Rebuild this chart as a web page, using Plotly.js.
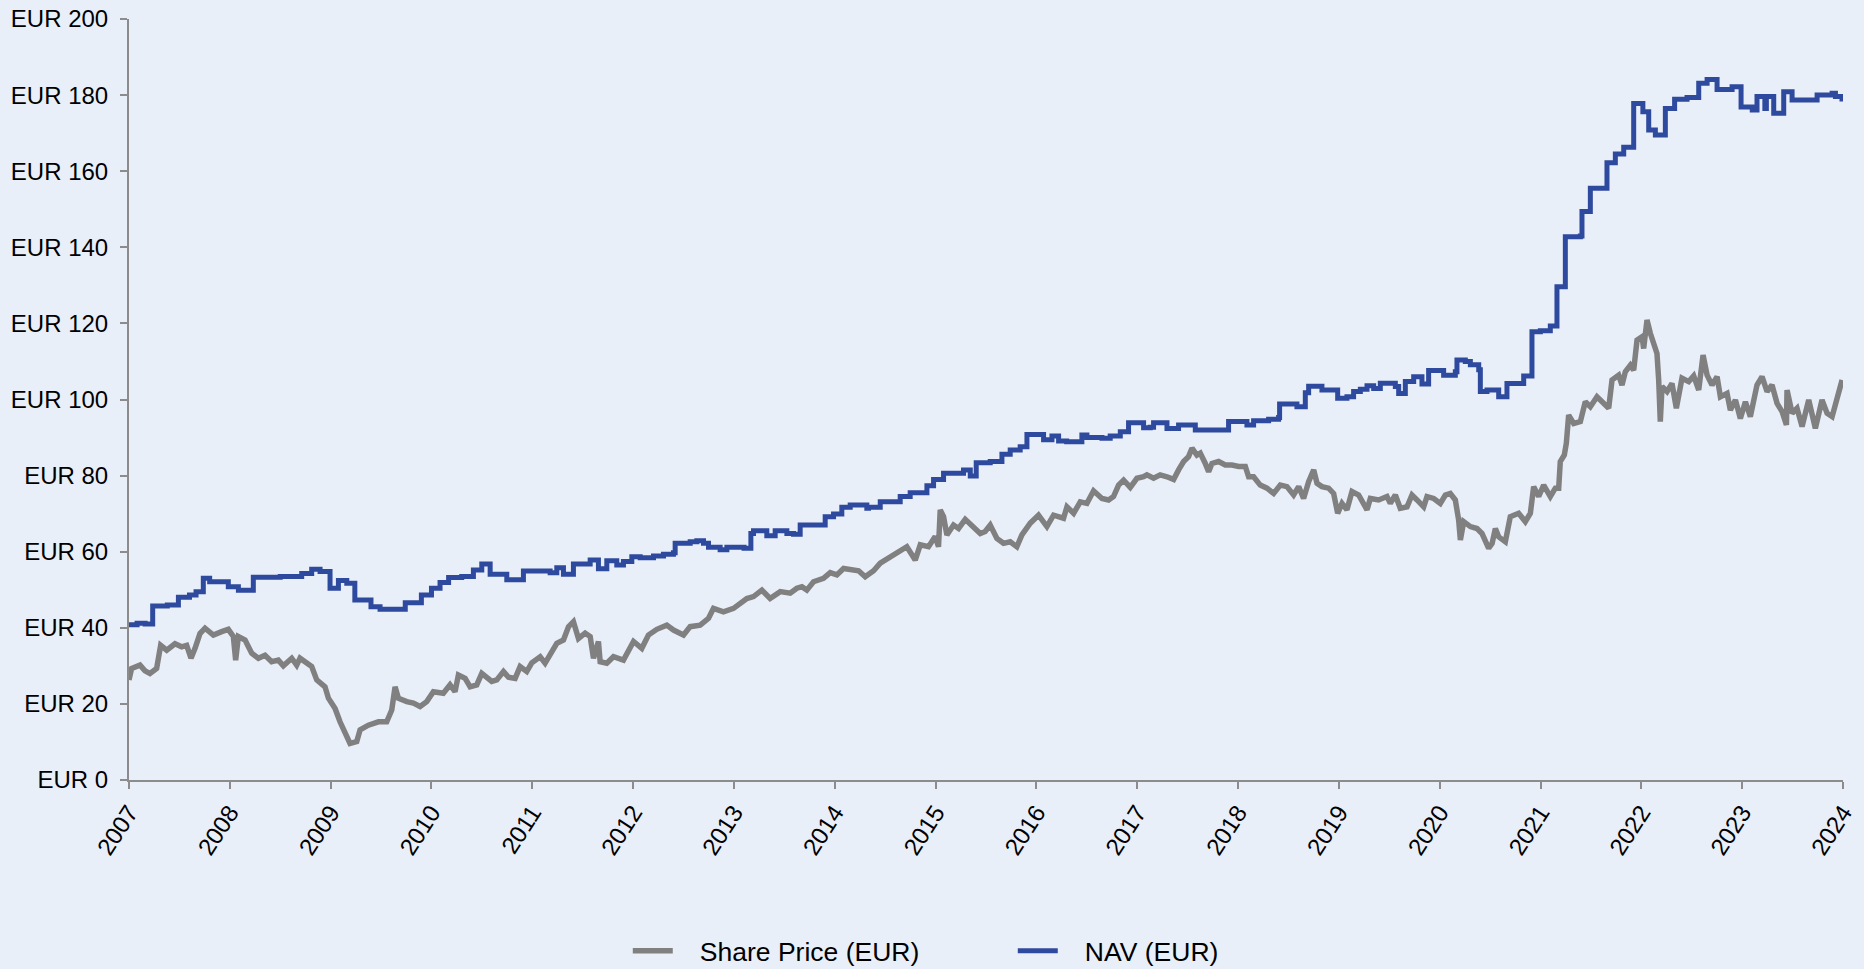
<!DOCTYPE html>
<html>
<head>
<meta charset="utf-8">
<script src="https://cdn.plot.ly/plotly-3.0.1.min.js"></script>
<style>
  html, body { margin: 0; padding: 0; background: #E9EFF9; }
  #chart { width: 1864px; height: 969px; }
</style>
</head>
<body>
<div id="chart"></div>
<script>
// ---- Data (decimal years) ----
const shareYears = [
2007.000,2007.026,2007.109,2007.159,2007.208,2007.274,2007.314,2007.374,2007.456,2007.522,
2007.572,2007.615,2007.655,2007.704,2007.754,2007.837,2007.919,2007.985,2008.035,2008.058,
2008.085,2008.151,2008.217,2008.283,2008.349,2008.415,2008.481,2008.531,2008.614,2008.663,
2008.696,2008.763,2008.812,2008.862,2008.944,2008.978,2009.044,2009.093,2009.143,2009.192,
2009.259,2009.292,2009.374,2009.474,2009.556,2009.606,2009.639,2009.672,2009.755,2009.821,
2009.887,2009.953,2010.019,2010.118,2010.184,2010.234,2010.267,2010.334,2010.383,2010.449,
2010.499,2010.598,2010.648,2010.714,2010.764,2010.830,2010.879,2010.945,2010.995,2011.078,
2011.127,2011.193,2011.243,2011.309,2011.359,2011.408,2011.458,2011.524,2011.574,2011.607,
2011.656,2011.673,2011.739,2011.805,2011.904,2012.004,2012.086,2012.152,2012.235,2012.334,
2012.400,2012.500,2012.566,2012.665,2012.748,2012.797,2012.896,2012.996,2013.062,2013.128,
2013.194,2013.277,2013.359,2013.459,2013.558,2013.624,2013.674,2013.723,2013.789,2013.888,
2013.955,2014.021,2014.087,2014.153,2014.236,2014.302,2014.385,2014.451,2014.550,2014.633,
2014.715,2014.798,2014.848,2014.930,2014.996,2015.029,2015.046,2015.079,2015.112,2015.178,
2015.228,2015.294,2015.360,2015.443,2015.492,2015.542,2015.608,2015.674,2015.740,2015.806,
2015.856,2015.939,2016.021,2016.104,2016.170,2016.269,2016.303,2016.369,2016.435,2016.501,
2016.567,2016.650,2016.716,2016.765,2016.815,2016.865,2016.931,2016.997,2017.063,2017.096,
2017.162,2017.228,2017.295,2017.361,2017.410,2017.460,2017.509,2017.543,2017.592,2017.625,
2017.675,2017.708,2017.741,2017.807,2017.873,2017.939,2018.006,2018.072,2018.105,2018.154,
2018.220,2018.287,2018.353,2018.419,2018.485,2018.551,2018.601,2018.650,2018.700,2018.750,
2018.783,2018.832,2018.898,2018.948,2018.988,2019.031,2019.080,2019.130,2019.196,2019.279,
2019.312,2019.394,2019.477,2019.510,2019.560,2019.609,2019.676,2019.725,2019.775,2019.841,
2019.874,2019.940,2020.006,2020.056,2020.105,2020.155,2020.188,2020.205,2020.238,2020.304,
2020.370,2020.419,2020.486,2020.520,2020.552,2020.585,2020.651,2020.700,2020.783,2020.849,
2020.899,2020.932,2020.982,2021.031,2021.097,2021.147,2021.180,2021.196,2021.236,2021.256,
2021.279,2021.329,2021.395,2021.444,2021.494,2021.560,2021.626,2021.676,2021.709,2021.775,
2021.808,2021.841,2021.891,2021.924,2021.957,2022.007,2022.023,2022.056,2022.089,2022.122,
2022.155,2022.172,2022.188,2022.205,2022.255,2022.304,2022.347,2022.403,2022.470,2022.519,
2022.569,2022.612,2022.652,2022.701,2022.751,2022.784,2022.850,2022.883,2022.933,2022.982,
2023.032,2023.081,2023.147,2023.197,2023.247,2023.296,2023.346,2023.396,2023.439,2023.445,
2023.495,2023.544,2023.594,2023.660,2023.726,2023.792,2023.842,2023.892,2023.941,2023.991
];
const shareValues = [
26.3,29.3,30.2,28.7,28.0,29.3,35.4,34.1,35.8,35.0,
35.4,32.0,34.6,38.5,39.9,38.1,39.0,39.6,37.7,31.5,
37.7,36.8,33.3,32.0,32.8,31.1,31.5,30.0,32.0,30.2,
32.0,30.7,29.8,26.3,24.5,21.5,18.8,15.3,12.3,9.6,
10.1,13.2,14.4,15.3,15.3,18.4,24.5,21.5,20.6,20.2,
19.3,20.6,23.2,22.8,25.0,23.2,27.6,26.7,24.5,25.0,
28.0,25.9,26.3,28.5,27.0,26.7,29.8,28.5,30.8,32.4,
30.7,33.3,35.9,36.8,40.3,41.6,37.2,38.6,37.7,32.0,
36.4,31.1,30.7,32.4,31.5,36.4,34.6,38.1,39.6,40.7,
39.4,38.1,40.3,40.7,42.5,45.1,44.2,45.1,46.4,47.7,
48.2,49.9,47.7,49.5,49.1,50.4,50.8,49.9,52.1,53.0,
54.5,53.9,55.6,55.2,55.0,53.4,55.0,57.0,58.7,60.0,
61.3,57.8,61.8,61.3,64.0,61.3,71.0,69.2,64.4,67.0,
66.1,68.5,67.0,64.8,65.3,67.0,63.5,62.2,62.6,61.3,
64.4,67.5,69.6,66.6,69.6,68.8,71.8,70.1,73.1,72.7,
76.0,74.0,73.6,74.5,77.5,78.8,76.9,79.3,79.7,80.2,
79.3,80.2,79.7,79.0,81.5,83.7,85.0,87.2,85.4,85.9,
83.2,81.0,83.2,83.7,82.8,82.8,82.4,82.4,79.7,79.7,
77.5,76.7,75.3,77.5,77.1,74.9,77.1,74.0,78.4,81.5,
78.0,77.1,76.7,75.3,70.1,72.7,71.0,75.8,74.9,71.0,
74.0,73.6,74.5,72.7,74.9,71.4,71.8,74.9,73.6,71.8,
74.5,74.0,72.7,74.9,75.3,73.6,68.3,63.1,67.9,66.6,
66.1,64.8,60.9,62.2,66.1,63.9,62.6,69.2,70.1,67.9,
70.1,77.1,74.5,77.5,74.5,76.7,76.7,83.7,85.4,88.5,
95.9,93.7,94.2,99.4,98.1,100.7,99.0,97.7,105.1,106.4,
103.8,107.3,109.0,107.7,115.6,116.5,113.4,120.9,117.4,114.7,
112.1,105.1,94.2,103.4,102.1,104.2,97.7,105.6,104.7,106.2,
102.5,111.7,106.4,103.8,106.0,100.7,101.6,97.2,99.9,95.0,
99.4,95.5,103.8,106.0,102.1,103.8,99.0,96.8,93.3,102.5,
96.4,97.7,92.9,99.9,92.4,99.9,96.4,95.5,100.7,105.1
];

const navYears = [
2007.000,2007.080,2007.160,2007.235,2007.380,2007.490,2007.600,2007.665,2007.737,2007.800,
2007.985,2008.085,2008.233,2008.500,2008.713,2008.812,2008.895,2008.994,2009.077,2009.160,
2009.240,2009.400,2009.490,2009.740,2009.900,2010.000,2010.085,2010.170,2010.300,2010.416,
2010.499,2010.582,2010.747,2010.912,2011.177,2011.243,2011.309,2011.408,2011.574,2011.656,
2011.739,2011.838,2011.904,2011.987,2012.070,2012.202,2012.301,2012.400,2012.417,2012.566,
2012.632,2012.698,2012.748,2012.863,2012.930,2013.100,2013.168,2013.194,2013.326,2013.409,
2013.525,2013.591,2013.657,2013.905,2013.988,2014.070,2014.153,2014.318,2014.335,2014.451,
2014.649,2014.748,2014.914,2014.980,2015.079,2015.277,2015.344,2015.403,2015.542,2015.658,
2015.740,2015.839,2015.906,2016.071,2016.154,2016.220,2016.300,2016.451,2016.501,2016.650,
2016.732,2016.832,2016.914,2017.063,2017.129,2017.162,2017.295,2017.410,2017.576,2017.906,
2018.088,2018.154,2018.303,2018.402,2018.412,2018.584,2018.667,2018.700,2018.832,2018.988,
2019.080,2019.146,2019.213,2019.279,2019.345,2019.411,2019.560,2019.593,2019.659,2019.742,
2019.824,2019.890,2020.039,2020.155,2020.171,2020.254,2020.304,2020.387,2020.403,2020.469,
2020.585,2020.667,2020.833,2020.915,2020.998,2021.097,2021.163,2021.246,2021.395,2021.411,
2021.494,2021.659,2021.742,2021.825,2021.924,2022.015,2022.073,2022.139,2022.238,2022.330,
2022.453,2022.569,2022.652,2022.751,2022.900,2022.989,2023.100,2023.147,2023.225,2023.240,
2023.313,2023.412,2023.495,2023.743,2023.892,2023.925,2023.990
];
const navValues = [
40.8,41.2,41.0,45.7,46.0,48.0,48.6,49.5,53.0,52.1,
50.8,49.9,53.3,53.5,54.3,55.4,54.8,50.4,52.4,51.7,
47.3,45.5,44.9,46.6,48.6,50.4,51.9,53.2,53.5,55.2,
56.8,54.1,52.6,54.9,54.5,55.8,54.1,56.8,57.8,55.5,
57.6,56.5,57.4,58.7,58.4,58.9,59.3,59.7,62.2,62.6,
62.9,62.2,61.2,60.5,61.2,60.9,64.8,65.5,64.2,65.5,
64.8,64.6,67.0,69.2,69.9,71.7,72.3,71.4,71.7,73.1,
74.5,75.5,77.3,79.0,80.6,81.5,79.9,83.4,83.7,85.6,
86.7,87.6,90.8,89.4,90.4,89.1,88.9,90.7,90.0,89.8,
90.4,91.5,93.9,92.6,92.7,93.9,92.4,93.3,92.0,94.2,
93.3,94.4,94.8,95.3,98.8,98.1,101.8,103.5,102.5,100.3,
100.7,102.1,102.7,103.6,102.9,104.3,103.4,101.6,104.7,106.0,
104.1,107.6,106.4,107.3,110.4,110.0,109.1,107.8,102.1,102.5,
100.7,104.2,106.2,117.8,118.1,119.3,129.6,142.8,143.0,149.4,
155.5,162.2,164.5,166.3,177.8,175.6,170.8,169.5,176.5,178.9,
179.4,183.1,184.1,181.5,182.2,176.9,176.1,179.6,176.5,179.6,
175.2,180.9,178.7,180.0,180.5,179.6,178.3
];

const yearTicks = [2007,2008,2009,2010,2011,2012,2013,2014,2015,2016,2017,2018,2019,2020,2021,2022,2023,2024];
const valueTicks = [0,20,40,60,80,100,120,140,160,180,200];
const seriesNames = ['Share Price (EUR)', 'NAV (EUR)'];
const seriesColors = ['#808080', '#2E4A9E'];

const BG = '#E9EFF9';
const AXIS = '#8C8C8C';
const FONT = 'Liberation Sans, Arial, sans-serif';
const PAD = '\u00A0\u00A0\u00A0';

const traces = [
  {
    x: shareYears, y: shareValues, name: PAD + seriesNames[0], type: 'scatter', mode: 'lines',
    line: {color: seriesColors[0], width: 5.5}
  },
  {
    x: navYears, y: navValues, name: PAD + seriesNames[1], type: 'scatter', mode: 'lines',
    line: {color: seriesColors[1], width: 5, shape: 'hv'}
  }
];

const layout = {
  width: 1864, height: 969,
  paper_bgcolor: BG, plot_bgcolor: BG,
  margin: {l: 129, r: 21, t: 19, b: 189, pad: 0, autoexpand: false},
  font: {family: FONT, color: '#000000', size: 24},
  showlegend: true,
  legend: {
    orientation: 'h', x: 0.291, xanchor: 'left',
    yref: 'container', y: 0.0186, yanchor: 'middle',
    font: {family: FONT, size: 26.5, color: '#000000'},
    bgcolor: 'rgba(0,0,0,0)', entrywidth: 330, entrywidthmode: 'pixels',
    itemwidth: 40
  },
  xaxis: {
    range: [yearTicks[0], yearTicks[yearTicks.length - 1]],
    tickvals: yearTicks, ticktext: yearTicks.map(String), automargin: false,
    tickangle: -57, ticks: 'outside', ticklen: 7, tickwidth: 2, tickcolor: AXIS,
    showline: true, linecolor: AXIS, linewidth: 2, showgrid: false, zeroline: false,
    tickfont: {family: FONT, size: 24, color: '#000000'}
  },
  yaxis: {
    range: [valueTicks[0], valueTicks[valueTicks.length - 1]],
    tickvals: valueTicks, ticktext: valueTicks.map(v => 'EUR ' + v), automargin: false,
    ticks: 'outside', ticklen: 7, tickwidth: 2, tickcolor: AXIS,
    showline: true, linecolor: AXIS, linewidth: 2, showgrid: false, zeroline: false,
    ticklabelstandoff: 7,
    tickfont: {family: FONT, size: 24, color: '#000000'}
  }
};

Plotly.newPlot('chart', traces, layout, {displayModeBar: false, staticPlot: true});
</script>
</body>
</html>
